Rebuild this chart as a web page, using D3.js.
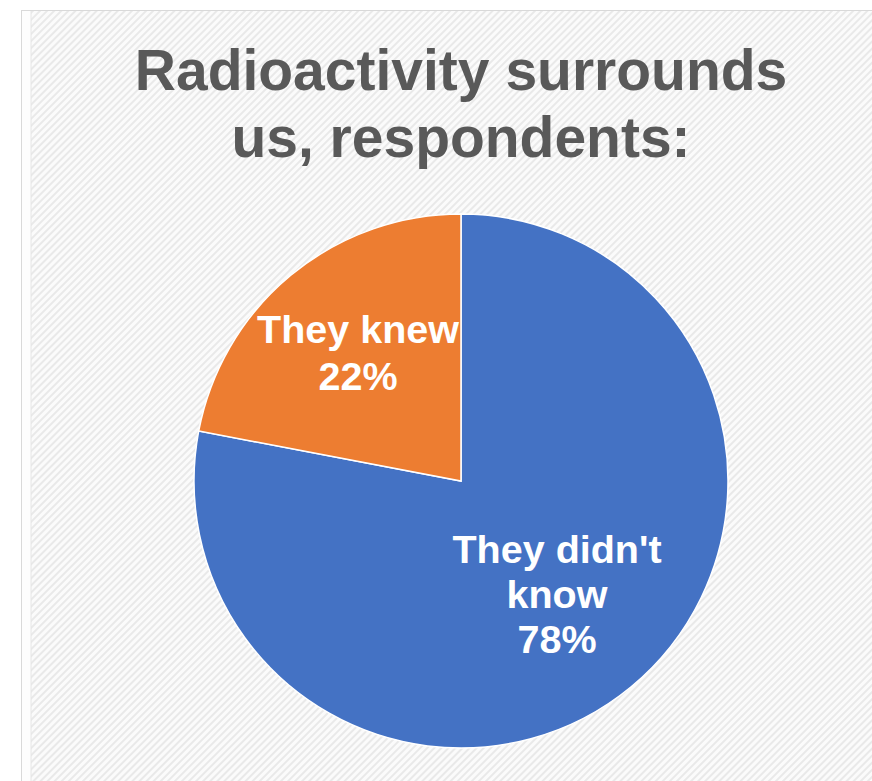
<!DOCTYPE html>
<html>
<head>
<meta charset="utf-8">
<script src="https://cdn.jsdelivr.net/npm/d3@7"></script>
<style>
  html, body { margin: 0; padding: 0; background: #fff; }
  svg { display: block; }
</style>
</head>
<body>
<div id="chart"></div>
<script>
// chart values
const categories = ["They didn't know", "They knew"];
const shares = [78, 22];
const labelLines = [["They didn't", "know", "78%"], ["They knew", "22%"]];
const titleLines = ["Radioactivity surrounds", "us, respondents:"];
const colors = ["#4472C4", "#ED7D31"];

const width = 872, height = 781;
const cx = 461, cy = 481, radius = 267;

const svg = d3.select("#chart")
  .append("svg")
  .attr("width", width)
  .attr("height", height);

// diagonal hatch background
const defs = svg.append("defs");
const pat = defs.append("pattern")
  .attr("id", "hatch")
  .attr("patternUnits", "userSpaceOnUse")
  .attr("width", 5)
  .attr("height", 5)
  .attr("patternTransform", "rotate(45)");
pat.append("rect").attr("width", 5).attr("height", 5).attr("fill", "#fbfbfb");
pat.append("rect").attr("width", 2).attr("height", 5).attr("fill", "#e9e9e9");

svg.append("rect")
  .attr("x", 21.5).attr("y", 10.5)
  .attr("width", width).attr("height", height)
  .attr("fill", "#fdfdfd")
  .attr("stroke", "#d9d9d9");

svg.append("rect")
  .attr("x", 31).attr("y", 11)
  .attr("width", width).attr("height", height)
  .attr("fill", "url(#hatch)");

svg.append("line")
  .attr("x1", 31).attr("x2", 31)
  .attr("y1", 11).attr("y2", height)
  .attr("stroke", "#e6e6e6");

// title
svg.append("g")
  .selectAll("text")
  .data(titleLines)
  .enter()
  .append("text")
  .attr("x", 461)
  .attr("y", (d, i) => 90 + i * 67)
  .attr("text-anchor", "middle")
  .attr("font-family", "Liberation Sans, Arial, sans-serif")
  .attr("font-weight", "bold")
  .attr("font-size", 57)
  .attr("fill", "#595959")
  .text(d => d);

// pie
const pie = d3.pie().sort(null).value(d => d);
const arc = d3.arc().innerRadius(0).outerRadius(radius);
const arcs = pie(shares);

const g = svg.append("g").attr("transform", "translate(" + cx + "," + cy + ")");

g.selectAll("path")
  .data(arcs)
  .enter()
  .append("path")
  .attr("d", arc)
  .attr("fill", (d, i) => colors[i])
  .attr("stroke", "#ffffff")
  .attr("stroke-width", 1.5);

// data labels
const labelPos = [[96, 82], [-103, -138]];
const lineH = [45, 47];

arcs.forEach((a, i) => {
  const lines = labelLines[i];
  const t = g.append("text")
    .attr("text-anchor", "middle")
    .attr("font-family", "Liberation Sans, Arial, sans-serif")
    .attr("font-weight", "bold")
    .attr("font-size", 39.5)
    .attr("fill", "#ffffff");
  lines.forEach((s, j) => {
    t.append("tspan")
      .attr("x", labelPos[i][0])
      .attr("y", labelPos[i][1] + j * lineH[i])
      .text(s);
  });
});
</script>
</body>
</html>
